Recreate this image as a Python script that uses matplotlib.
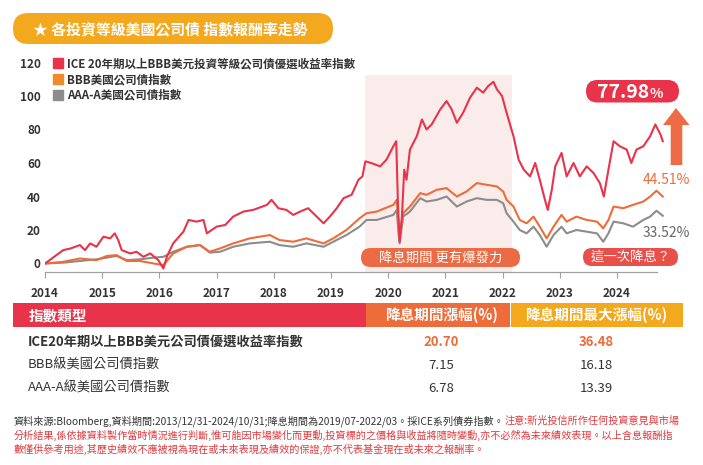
import matplotlib
matplotlib.use("Agg")
import matplotlib.pyplot as plt
from matplotlib.patches import FancyBboxPatch, Rectangle, Polygon
from matplotlib.lines import Line2D

plt.rcParams['font.family'] = ['Noto Sans CJK TC', 'DejaVu Sans']

# ---------------- data ----------------
series_names = ["ICE 20年期以上BBB美元投資等級公司債優選收益率指數", "BBB美國公司債指數", "AAA-A美國公司債指數"]

ice_t = [2014.0, 2014.08, 2014.32, 2014.45, 2014.61, 2014.7, 2014.79, 2014.9, 2015.02, 2015.14,
         2015.22, 2015.28, 2015.34, 2015.49, 2015.6, 2015.72, 2015.84, 2015.98, 2016.07, 2016.13,
         2016.24, 2016.42, 2016.51, 2016.65, 2016.77, 2016.83, 2017.0, 2017.15, 2017.29, 2017.47,
         2017.64, 2017.88, 2017.96, 2018.08, 2018.22, 2018.34, 2018.46, 2018.6, 2018.72, 2018.87,
         2018.98, 2019.1, 2019.22, 2019.36, 2019.48, 2019.55, 2019.6, 2019.7, 2019.86, 2019.97,
         2020.09, 2020.14, 2020.17, 2020.2, 2020.24, 2020.28, 2020.32, 2020.38, 2020.5, 2020.59,
         2020.67, 2020.76, 2020.91, 2021.02, 2021.11, 2021.2, 2021.31, 2021.43, 2021.55, 2021.66,
         2021.75, 2021.84, 2021.9, 2021.99, 2022.07, 2022.19, 2022.28, 2022.37, 2022.48, 2022.57,
         2022.65, 2022.74, 2022.79, 2022.86, 2022.92, 2023.03, 2023.12, 2023.24, 2023.35, 2023.47,
         2023.59, 2023.7, 2023.77, 2023.85, 2023.94, 2024.05, 2024.17, 2024.25, 2024.34, 2024.46,
         2024.58, 2024.67, 2024.76, 2024.8]
ice_v = [0, 2, 8, 9, 11, 8, 12, 10, 16, 15,
         18, 14, 8, 6, 7, 4, 6, 2, -3, 4,
         12, 19, 26, 25, 26, 18, 22, 23, 28, 31,
         32, 35, 38, 33, 32, 29, 31, 33, 29, 24,
         28, 33, 39, 41, 50, 52, 61, 60, 58, 62,
         70, 73, 36, 13, 28, 56, 50, 68, 76, 86,
         80, 83, 92, 97, 92, 84, 90, 99, 105, 102,
         106, 108.5, 104, 100, 90, 76, 62, 56, 52, 60,
         50, 38, 32, 44, 58, 66, 52, 60, 52, 58,
         54, 48, 40, 56, 73, 70, 68, 60, 68, 70,
         76, 83, 77, 73]

idx_t = [2014.0, 2014.32, 2014.61, 2014.9, 2015.08, 2015.25, 2015.43, 2015.66, 2015.9, 2016.07,
         2016.24, 2016.48, 2016.71, 2016.88, 2017.06, 2017.29, 2017.58, 2017.93, 2018.1, 2018.34,
         2018.57, 2018.87, 2019.04, 2019.27, 2019.5, 2019.62, 2019.8, 2020.09, 2020.15, 2020.18,
         2020.2, 2020.26, 2020.38, 2020.56, 2020.67, 2020.85, 2021.02, 2021.2, 2021.37, 2021.55,
         2021.72, 2021.9, 2022.01, 2022.07, 2022.19, 2022.3, 2022.42, 2022.54, 2022.65, 2022.77,
         2022.89, 2023.03, 2023.12, 2023.29, 2023.47, 2023.65, 2023.76, 2023.85, 2023.94, 2024.11,
         2024.28, 2024.46, 2024.58, 2024.69, 2024.8]
bbb_v = [0, 1, 3, 2, 4.5, 5, 1.5, 1.5, 0, -1,
         6, 10, 11, 7, 9, 12, 15, 17, 14, 13,
         15, 12, 15, 20, 27, 30, 31, 35, 38, 22,
         16, 30, 34, 42, 41, 44, 45, 40, 43, 48,
         47, 46, 43, 38, 34, 26, 24, 28, 22, 15,
         22, 29, 25, 28, 26, 25, 21, 26, 34, 33,
         35, 37, 40, 43.5, 40]
aaa_v = [0, 0.5, 1.5, 2.5, 3.5, 4.5, 2, 2.5, 3.5, 4,
         7, 10, 11, 6.5, 7, 10, 12, 13, 11, 10,
         12, 10, 13, 17, 22, 26, 26, 29, 32, 18,
         12, 28, 31, 39, 37, 38, 40, 34, 37, 39,
         38, 38, 36, 30, 25, 20, 18, 22, 17, 10,
         17, 22, 18, 20, 19, 18, 13, 18, 25, 24,
         22, 26, 28, 31.5, 28.5]

years = list(range(2014, 2025))
yticks = [0, 20, 40, 60, 80, 100, 120]
easing_start, easing_end = 2019.6, 2022.17

total_returns = ["77.98", "44.51%", "33.52%"]

table_header = ["指數類型", "降息期間漲幅(%)", "降息期間最大漲幅(%)"]
table_names = ["ICE20年期以上BBB美元公司債優選收益率指數", "BBB級美國公司債指數", "AAA-A級美國公司債指數"]
table_gain = ["20.70", "7.15", "6.78"]
table_max = ["36.48", "16.18", "13.39"]

title = "★ 各投資等級美國公司債 指數報酬率走勢"
foot_black = "資料來源:Bloomberg,資料期間:2013/12/31-2024/10/31;降息期間為2019/07-2022/03。採ICE系列債券指數。"
foot_red1 = "注意:新光投信所作任何投資意見與市場"
foot_red2 = "分析結果,係依據資料製作當時情況進行判斷,惟可能因市場變化而更動,投資標的之價格與收益將隨時變動,亦不必然為未來績效表現。以上含息報酬指"
foot_red3 = "數僅供參考用途,其歷史績效不應被視為現在或未來表現及績效的保證,亦不代表基金現在或未來之報酬率。"

# ---------------- colours ----------------
RED = "#E8334A"
ORANGE = "#EE6B3A"
LEG_ORANGE = "#F08A2A"
GRAY = "#8C8C8C"
YELLOW = "#F4A81D"
DARK = "#333333"
PINK = "#FBECEC"

W, H = 703, 465
fig = plt.figure(figsize=(W / 100, H / 100), dpi=100)

# ---------------- chart ----------------
px_per_year = 57.2
y0_px, px_per_unit = 263.5, 1.675
ax = fig.add_axes([45 / W, (H - 272) / H, 620 / W, 212 / H])
ax.set_xlim(2014, 2014 + 620 / px_per_year)
ax.set_ylim((y0_px - 272) / px_per_unit, (y0_px - 60) / px_per_unit)
ax.patch.set_alpha(0)

ax.add_patch(Rectangle((easing_start, ax.get_ylim()[0]), easing_end - easing_start,
                       112.5 - ax.get_ylim()[0], color=PINK, lw=0, zorder=0))

ax.plot(idx_t, aaa_v, color=GRAY, lw=1.5, zorder=2, solid_joinstyle='round')
ax.plot(idx_t, bbb_v, color=ORANGE, lw=1.5, zorder=3, solid_joinstyle='round')
ax.plot(ice_t, ice_v, color=RED, lw=1.5, zorder=4, solid_joinstyle='round')

for s in ["top", "right", "left"]:
    ax.spines[s].set_visible(False)
ax.spines["bottom"].set_color("#A0A0A0")
ax.spines["bottom"].set_linewidth(0.9)
ax.spines["bottom"].set_bounds(2014, 2014 + 612 / px_per_year)
ax.set_xticks(years)
ax.set_xticklabels([str(y) for y in years])
ax.set_yticks(yticks)
ax.set_yticklabels([str(v) for v in yticks])
ax.tick_params(axis="x", direction="out", length=4, width=0.8, color="#A0A0A0", pad=7,
               labelsize=8.5, labelcolor=DARK)
ax.tick_params(axis="y", length=0, pad=3, labelsize=8.5, labelcolor=DARK)
for lab in ax.get_xticklabels() + ax.get_yticklabels():
    lab.set_fontweight("bold")

handles = [Line2D([], [], ls="", marker="s", markersize=6.5, color=c)
           for c in [RED, LEG_ORANGE, GRAY]]
leg = ax.legend(handles, series_names, loc="upper left", bbox_to_anchor=(53 / W, 1 - 57.5 / H),
                bbox_transform=fig.transFigure, frameon=False, borderpad=0, borderaxespad=0,
                handlelength=0.8, handletextpad=0.45, labelspacing=0.22,
                prop={"size": 8.3, "weight": "bold"})
for t in leg.get_texts():
    t.set_color(DARK)

# ---------------- overlay (pixel coordinates) ----------------
ov = fig.add_axes([0, 0, 1, 1], zorder=5)
ov.set_xlim(0, W)
ov.set_ylim(H, 0)
ov.axis("off")
ov.patch.set_alpha(0)

def pill(x0, y0, x1, y1, color):
    h = y1 - y0
    ov.add_patch(FancyBboxPatch((x0, y0), x1 - x0, h,
                                boxstyle="round,pad=0,rounding_size=%f" % (h / 2),
                                fc=color, ec="none"))

# title
pill(13, 13, 333, 44, YELLOW)
ov.text(33, 29, title, color="white", fontsize=10.7, fontweight="bold", va="center", ha="left")

# chart annotations
pill(361, 248, 520, 267, "#EC6B45")
ov.text(441, 257.5, "降息期間 更有爆發力", color="white", fontsize=9.6, va="center", ha="center")
pill(583, 248, 678, 266, "#E8504A")
ov.text(630.5, 257, "這一次降息？", color="white", fontsize=9.6, va="center", ha="center")

pill(586, 80, 679, 102.5, RED)
ov.text(649, 92, total_returns[0], color="white", fontsize=14, fontweight="bold",
        va="center", ha="right")
ov.text(650, 93.5, "%", color="white", fontsize=10, fontweight="bold", va="center", ha="left")

ov.add_patch(Polygon([(676, 108), (689.5, 125), (682.3, 125), (682.3, 165),
                      (670.7, 165), (670.7, 125), (663, 125)], closed=True,
                     fc="#EE6B45", ec="none"))
ov.text(690, 180, total_returns[1], color=ORANGE, fontsize=10, va="center", ha="right")
ov.text(690, 233, total_returns[2], color="#666666", fontsize=10, va="center", ha="right")

# table
ov.add_patch(Rectangle((13, 302.5), 365.7 - 13, 24.5, fc=RED, ec="none"))
ov.add_patch(Rectangle((365.7, 302.5), 509.7 - 365.7, 24.5, fc=ORANGE, ec="none"))
ov.add_patch(Rectangle((510.7, 302.5), 683 - 510.7, 24.5, fc=YELLOW, ec="none"))
ov.text(29, 315, table_header[0], color="white", fontsize=10.5, fontweight="bold",
        va="center", ha="left")
ov.text(441, 315, table_header[1], color="white", fontsize=10.5, fontweight="bold",
        va="center", ha="center")
ov.text(596, 315, table_header[2], color="white", fontsize=10.5, fontweight="bold",
        va="center", ha="center")
row_y = [342, 365, 388]
for i in range(3):
    bold = (i == 0)
    ov.text(28, row_y[i], table_names[i], color=DARK, fontsize=9.5,
            fontweight="bold" if bold else "normal", va="center", ha="left")
    c = ORANGE if bold else DARK
    ov.text(441, row_y[i], table_gain[i], color=c, fontsize=9.5,
            fontweight="bold" if bold else "normal", va="center", ha="center")
    ov.text(596, row_y[i], table_max[i], color=c, fontsize=9.5,
            fontweight="bold" if bold else "normal", va="center", ha="center")

# footnote
FRED = "#E0393E"
fs = 7.3
tb = ov.text(14, 421, foot_black, color=DARK, fontsize=fs, va="center", ha="left")
fig.canvas.draw()
r = fig.canvas.get_renderer()
bb = tb.get_window_extent(r)
x_end = bb.x1  # pixels
ov.text(x_end, 421, foot_red1, color=FRED, fontsize=fs, va="center", ha="left")
ov.text(14, 435, foot_red2, color=FRED, fontsize=fs, va="center", ha="left")
ov.text(14, 449, foot_red3, color=FRED, fontsize=fs, va="center", ha="left")

fig.savefig("out.png", dpi=100)
